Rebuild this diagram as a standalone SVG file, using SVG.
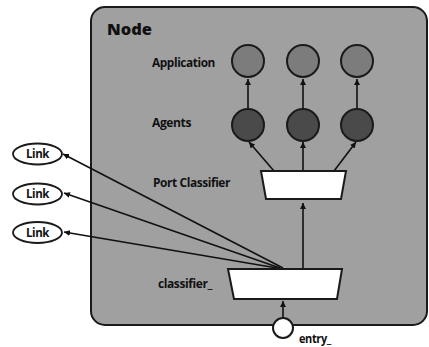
<svg xmlns="http://www.w3.org/2000/svg" width="429" height="347" viewBox="0 0 429 347">
  <style>
    .lbl { font-family: "Open Sans", "Liberation Sans", sans-serif; font-weight: 700; font-size: 11.5px; fill: #111; letter-spacing: -0.4px; }
    .edge { stroke: #111; stroke-width: 1.6; fill: none; marker-end: url(#arr); }
    .app { fill: #7c7c7c; stroke: #1a1a1a; stroke-width: 2; }
    .agent { fill: #4a4a4a; stroke: #1a1a1a; stroke-width: 2; }
    .clf { fill: #ffffff; stroke: #1a1a1a; stroke-width: 2; }
    .link { fill: #ffffff; stroke: #1a1a1a; stroke-width: 1.8; }
  </style>
  <defs>
    <marker id="arr" viewBox="0 0 10 10" refX="10" refY="5" markerWidth="6" markerHeight="6" markerUnits="userSpaceOnUse" orient="auto">
      <path d="M0,0 L10,5 L0,10 z" fill="#111"/>
    </marker>
  </defs>
  <rect width="429" height="347" fill="#ffffff"/>

  <!-- container node -->
  <g id="node">
    <rect x="91" y="7" width="336" height="318" rx="14" ry="14" fill="#a0a0a0" stroke="#1a1a1a" stroke-width="2"/>
    <text x="107" y="35" font-family="'Open Sans', 'Liberation Sans', sans-serif" font-weight="800" font-size="15.5" fill="#111" textLength="45" lengthAdjust="spacingAndGlyphs">Node</text>
  </g>

  <!-- row labels -->
  <g id="labels">
    <text class="lbl" x="152" y="67" textLength="63" lengthAdjust="spacingAndGlyphs">Application</text>
    <text class="lbl" x="152" y="127" textLength="39" lengthAdjust="spacingAndGlyphs">Agents</text>
    <text class="lbl" x="153" y="187" textLength="77" lengthAdjust="spacingAndGlyphs">Port Classifier</text>
    <text class="lbl" x="158" y="288" textLength="54" lengthAdjust="spacingAndGlyphs">classifier_</text>
  </g>

  <!-- connectors -->
  <g id="connectors">
    <line class="edge" x1="248" y1="109" x2="248" y2="79"/>
    <line class="edge" x1="303" y1="109" x2="303" y2="79"/>
    <line class="edge" x1="357" y1="109" x2="357" y2="79"/>
    <line class="edge" x1="274" y1="171" x2="249" y2="142"/>
    <line class="edge" x1="303" y1="171" x2="303" y2="142"/>
    <line class="edge" x1="334" y1="171" x2="356" y2="142"/>
    <line class="edge" x1="303" y1="269" x2="303" y2="203"/>
    <line class="edge" x1="283" y1="318" x2="283" y2="301"/>
    <line class="edge" x1="283" y1="268" x2="63" y2="154"/>
    <line class="edge" x1="280" y1="268" x2="64" y2="193"/>
    <line class="edge" x1="277" y1="268" x2="64" y2="232"/>
  </g>

  <g id="app1"><circle class="app" cx="248" cy="61" r="16"/></g>
  <g id="app2"><circle class="app" cx="303" cy="61" r="16"/></g>
  <g id="app3"><circle class="app" cx="357" cy="61" r="16"/></g>

  <g id="agent1"><circle class="agent" cx="248" cy="125" r="16"/></g>
  <g id="agent2"><circle class="agent" cx="303" cy="125" r="16"/></g>
  <g id="agent3"><circle class="agent" cx="357" cy="125" r="16"/></g>

  <g id="port-classifier"><polygon class="clf" points="261,171 346,171 341,199 266,199"/></g>
  <g id="classifier"><polygon class="clf" points="228,269 342,269 337,299 234,299"/></g>

  <g id="entry">
    <circle cx="283" cy="328" r="10" fill="#ffffff" stroke="#1a1a1a" stroke-width="2"/>
    <text class="lbl" x="299" y="343" textLength="32" lengthAdjust="spacingAndGlyphs">entry_</text>
  </g>

  <g id="link1">
    <ellipse class="link" cx="37.5" cy="154" rx="24.5" ry="10.5"/>
    <text class="lbl" x="37.5" y="158" text-anchor="middle">Link</text>
  </g>
  <g id="link2">
    <ellipse class="link" cx="37.5" cy="194" rx="24.5" ry="10.5"/>
    <text class="lbl" x="37.5" y="198" text-anchor="middle">Link</text>
  </g>
  <g id="link3">
    <ellipse class="link" cx="37.5" cy="232.5" rx="24.5" ry="10.5"/>
    <text class="lbl" x="37.5" y="236.5" text-anchor="middle">Link</text>
  </g>
</svg>
